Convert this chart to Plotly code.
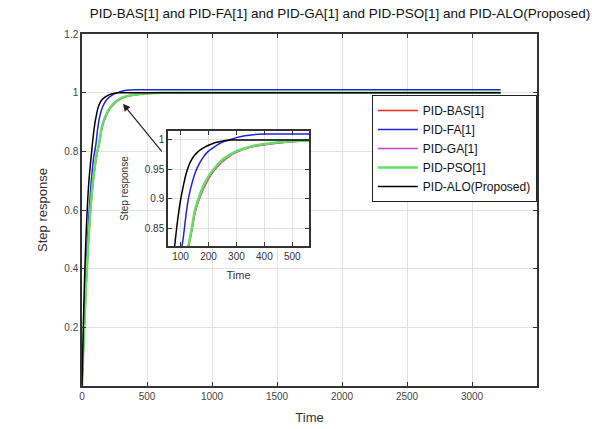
import plotly.graph_objects as go

# ---- data ----
time = [0, 10, 20, 30, 40, 50, 60, 70, 80, 90, 100, 110, 120, 130, 140, 150, 160,
        180, 200, 220, 240, 260, 280, 300, 330, 360, 400, 450, 500, 560, 700,
        1000, 2000, 3220]

bas = [0, 0.118, 0.226, 0.325, 0.414, 0.494, 0.563, 0.623, 0.673, 0.713, 0.748,
       0.778, 0.800, 0.820, 0.845, 0.872, 0.890, 0.915, 0.934, 0.948, 0.959,
       0.967, 0.974, 0.979, 0.985, 0.989, 0.992, 0.995, 0.997, 0.999, 1.0,
       1.0, 1.0, 1.0]
fa = [0, 0.14, 0.27, 0.38, 0.48, 0.56, 0.63, 0.69, 0.74, 0.78, 0.805, 0.835,
      0.875, 0.905, 0.925, 0.941, 0.953, 0.970, 0.981, 0.988, 0.994, 0.998,
      1.001, 1.004, 1.007, 1.009, 1.010, 1.010, 1.010, 1.010, 1.010,
      1.010, 1.010, 1.010]
ga = [0, 0.119, 0.227, 0.326, 0.415, 0.495, 0.565, 0.625, 0.675, 0.715, 0.750,
      0.780, 0.802, 0.822, 0.847, 0.874, 0.892, 0.917, 0.935, 0.949, 0.960,
      0.968, 0.975, 0.980, 0.985, 0.989, 0.992, 0.995, 0.997, 0.999, 1.0,
      1.0, 1.0, 1.0]
pso = [0, 0.12, 0.23, 0.33, 0.42, 0.50, 0.57, 0.63, 0.68, 0.72, 0.755, 0.785,
       0.805, 0.825, 0.850, 0.878, 0.895, 0.920, 0.938, 0.951, 0.962, 0.970,
       0.976, 0.981, 0.986, 0.990, 0.993, 0.996, 0.998, 0.999, 1.0,
       1.0, 1.0, 1.0]
alo = [0, 0.20, 0.37, 0.50, 0.60, 0.68, 0.735, 0.78, 0.825, 0.866, 0.898, 0.922,
       0.943, 0.957, 0.967, 0.974, 0.979, 0.986, 0.991, 0.995, 0.997, 0.999,
       1.0, 1.0, 1.0, 1.0, 1.0, 1.0, 1.0, 1.0, 1.0,
       1.0, 1.0, 1.0]

names = ["PID-BAS[1]", "PID-FA[1]", "PID-GA[1]", "PID-PSO[1]", "PID-ALO(Proposed)"]
series = [bas, fa, ga, pso, alo]
colors = ["#ee2222", "#2222dd", "#cc44cc", "#66dd66", "#000000"]
widths = [1.5, 1.5, 1.5, 2.5, 1.5]

main_xticks = [0, 500, 1000, 1500, 2000, 2500, 3000]
main_yticks = [0.2, 0.4, 0.6, 0.8, 1.0, 1.2]
main_yticklabels = ["0.2", "0.4", "0.6", "0.8", "1", "1.2"]
inset_xticks = [100, 200, 300, 400, 500]
inset_yticks = [0.85, 0.9, 0.95, 1.0]
inset_yticklabels = ["0.85", "0.9", "0.95", "1"]

title_text = "PID-BAS[1] and PID-FA[1] and PID-GA[1] and PID-PSO[1] and PID-ALO(Proposed)"

FONT = "Liberation Sans, Arial, sans-serif"

fig = go.Figure()
for name, ys, c, w in zip(names, series, colors, widths):
    fig.add_trace(go.Scatter(x=time, y=ys, mode="lines", name=name,
                             line=dict(color=c, width=w, shape="spline", smoothing=0.5),
                             xaxis="x", yaxis="y"))
for name, ys, c, w in zip(names, series, colors, widths):
    fig.add_trace(go.Scatter(x=time, y=ys, mode="lines", name=name, showlegend=False,
                             line=dict(color=c, width=w, shape="spline", smoothing=0.5),
                             xaxis="x2", yaxis="y2"))

axcommon = dict(showline=True, linecolor="#333", linewidth=1.5, mirror="ticks",
                ticks="inside", ticklen=4, tickcolor="#333",
                showgrid=True, gridcolor="#e2e2e2", gridwidth=1, zeroline=False,
                tickfont=dict(family=FONT, size=10, color="#444"))
insetfont = dict(family=FONT, size=10, color="#333")

fig.update_layout(
    width=592, height=429,
    margin=dict(l=82, r=55, t=34, b=43),
    paper_bgcolor="white", plot_bgcolor="white",
    font=dict(family=FONT, color="#222"),
    title=dict(text=title_text, x=10 / 592, xanchor="left", xref="paper",
               y=1 - 13 / 429, yanchor="middle",
               font=dict(family=FONT, size=13.5, color="#111")),
    xaxis=dict(domain=[0, 1], range=[0, 3500], tickvals=main_xticks, automargin=False,
               title=dict(text="Time", font=dict(family=FONT, size=13, color="#333"), standoff=12),
               **axcommon),
    yaxis=dict(domain=[0, 1], range=[0, 1.2], tickvals=main_yticks, automargin=False,
               ticktext=main_yticklabels,
               title=dict(text="Step response", font=dict(family=FONT, size=13, color="#333"), standoff=14),
               **axcommon),
    xaxis2=dict(domain=[0.189, 0.499], range=[55, 560], tickvals=inset_xticks, anchor="y2",
                automargin=False,
                title=dict(text="Time", font=dict(family=FONT, size=11, color="#333"), standoff=11),
                **{**axcommon, "tickfont": insetfont}),
    yaxis2=dict(domain=[0.398, 0.724], range=[0.82, 1.015], tickvals=inset_yticks,
                ticktext=inset_yticklabels, anchor="x2", automargin=False,
                title=dict(text="Step response", font=dict(family=FONT, size=10, color="#333"), standoff=14),
                **{**axcommon, "tickfont": insetfont}),
    legend=dict(x=0.637, y=0.827, xanchor="left", yanchor="top",
                bgcolor="white", bordercolor="#222", borderwidth=1,
                font=dict(family=FONT, size=12, color="#111"),
                itemwidth=40, tracegroupgap=0),
    showlegend=True,
)

fig.add_shape(type="rect", xref="x2 domain", yref="y2 domain", x0=0, x1=1, y0=0, y1=1,
              fillcolor="white", line=dict(width=0), layer="below")

fig.add_annotation(x=315, y=0.962, ax=623, ay=0.795, xref="x", yref="y",
                   axref="x", ayref="y", showarrow=True, arrowhead=2, arrowsize=1.2,
                   arrowwidth=1.2, arrowcolor="#222", text="")

fig.write_html("out.html")
